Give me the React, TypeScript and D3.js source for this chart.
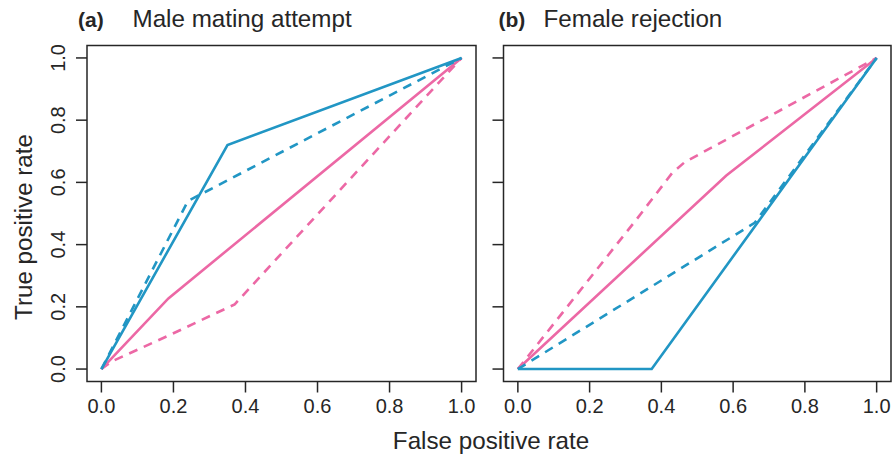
import React from 'react';
import * as d3 from 'd3';

// ROC curves: [fpr, tpr] pairs
const maleBlueSolid: [number, number][] = [[0, 0], [0.35, 0.72], [1, 1]];
const maleBlueDashed: [number, number][] = [[0, 0], [0.24, 0.54], [1, 1]];
const malePinkSolid: [number, number][] = [[0, 0], [0.186, 0.227], [1, 1]];
const malePinkDashed: [number, number][] = [[0, 0], [0.03, 0.025], [0.2, 0.115], [0.37, 0.208], [1, 1]];

const femaleBlueSolid: [number, number][] = [[0, 0], [0.373, 0], [1, 1]];
const femaleBlueDashed: [number, number][] = [[0, 0], [0.66, 0.47], [1, 1]];
const femalePinkSolid: [number, number][] = [[0, 0], [0.581, 0.622], [1, 1]];
const femalePinkDashed: [number, number][] = [[0, 0], [0.33, 0.48], [0.43, 0.63], [0.465, 0.665], [1, 1]];

const tickValues = [0, 0.2, 0.4, 0.6, 0.8, 1.0];
const panelTags = ['(a)', '(b)'];
const panelTitles = ['Male mating attempt', 'Female rejection'];

const BLUE = '#2196c4';
const PINK = '#ec68a5';
const INK = '#262626';
const FONT = '"Liberation Sans", Arial, Helvetica, sans-serif';

type Series = { pts: [number, number][]; color: string; dashed: boolean };

const panels: Series[][] = [
  [
    { pts: malePinkDashed, color: PINK, dashed: true },
    { pts: malePinkSolid, color: PINK, dashed: false },
    { pts: maleBlueDashed, color: BLUE, dashed: true },
    { pts: maleBlueSolid, color: BLUE, dashed: false },
  ],
  [
    { pts: femalePinkDashed, color: PINK, dashed: true },
    { pts: femalePinkSolid, color: PINK, dashed: false },
    { pts: femaleBlueDashed, color: BLUE, dashed: true },
    { pts: femaleBlueSolid, color: BLUE, dashed: false },
  ],
];

const W = 893;
const H = 456;
const top = 45.5;
const bottom = 381.5;
const boxes = [[87, 476], [503.5, 891]];
const tagX = [78, 498.5];
const titleX = [132.5, 543.5];

const Panel = ({ idx }: { idx: number }) => {
  const [x0, x1] = boxes[idx];
  const x = d3.scaleLinear().domain([-0.04, 1.04]).range([x0, x1]);
  const y = d3.scaleLinear().domain([-0.04, 1.04]).range([bottom, top]);
  const line = d3.line<[number, number]>().x(d => x(d[0])).y(d => y(d[1]));
  const tickLen = 11;

  return (
    <g>
      <rect x={x0} y={top} width={x1 - x0} height={bottom - top} fill="none" stroke={INK} strokeWidth={1.5} />
      {panels[idx].map((s, i) => (
        <path key={i} d={line(s.pts) || ''} fill="none" stroke={s.color} strokeWidth={2.6}
          strokeDasharray={s.dashed ? '9,7' : undefined} strokeLinejoin="miter" />
      ))}
      {tickValues.map(t => (
        <g key={'x' + t}>
          <line x1={x(t)} x2={x(t)} y1={bottom} y2={bottom + tickLen} stroke={INK} strokeWidth={1.5} />
          <text x={x(t)} y={413} textAnchor="middle" fontSize={20} fill={INK}>{t.toFixed(1)}</text>
        </g>
      ))}
      {tickValues.map(t => (
        <g key={'y' + t}>
          <line x1={x0 - tickLen} x2={x0} y1={y(t)} y2={y(t)} stroke={INK} strokeWidth={1.5} />
          {idx === 0 && (
            <text transform={`translate(64.5,${y(t)}) rotate(-90)`} textAnchor="middle" fontSize={20} fill={INK}>
              {t.toFixed(1)}
            </text>
          )}
        </g>
      ))}
      <text x={tagX[idx]} y={27} fontSize={21} fontWeight="bold" fill={INK}>{panelTags[idx]}</text>
      <text x={titleX[idx]} y={27} fontSize={24.2} fill={INK}>{panelTitles[idx]}</text>
    </g>
  );
};

export default function App() {
  return (
    <svg width={W} height={H} style={{ position: 'absolute', left: 0, top: 0, fontFamily: FONT, background: '#fff' }}>
      <rect width={W} height={H} fill="#fff" />
      <Panel idx={0} />
      <Panel idx={1} />
      <text x={491} y={449} textAnchor="middle" fontSize={24.2} fill={INK}>False positive rate</text>
      <text transform={`translate(31.5,227) rotate(-90)`} textAnchor="middle" fontSize={24.2} fill={INK}>
        True positive rate
      </text>
    </svg>
  );
}
